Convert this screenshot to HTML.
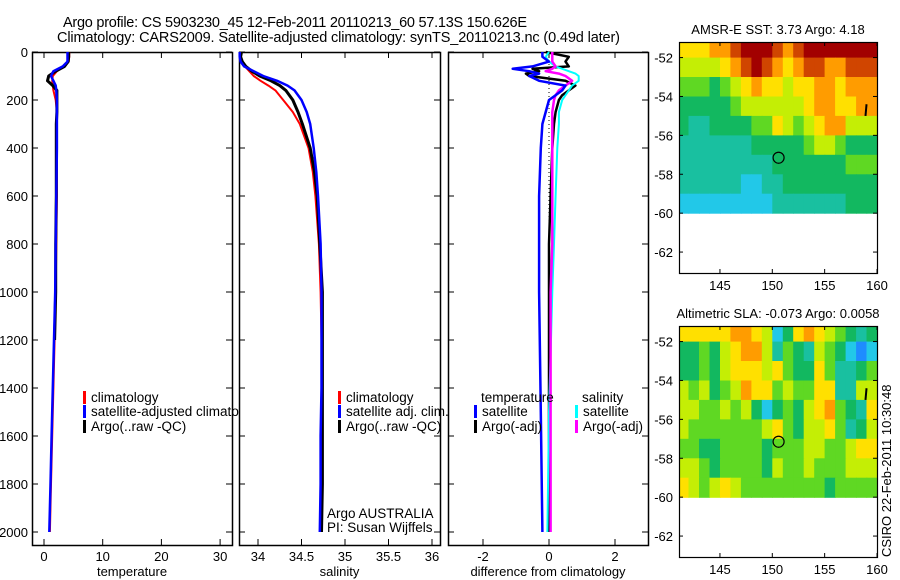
<!DOCTYPE html>
<html><head><meta charset="utf-8">
<style>
html,body{margin:0;padding:0;background:#fff;}
svg{display:block;font-family:"Liberation Sans",Arial,sans-serif;}
</style></head>
<body>
<svg id="fig" width="900" height="580" viewBox="0 0 900 580" xmlns="http://www.w3.org/2000/svg">
<text x="63" y="27" font-size="14.5" textLength="464">Argo profile: CS 5903230_45 12-Feb-2011 20110213_60 57.13S 150.626E</text>
<text x="57" y="42" font-size="14.5" textLength="563">Climatology: CARS2009. Satellite-adjusted climatology: synTS_20110213.nc (0.49d later)</text>
<g id="plots"></g>
</svg>
<script>
// ---------- data ----------
const tDepth = [0,20,40,60,80,100,120,140,160,200,250,300,400,600,800,1000,1200,1400,1600,1800,2000];
const tClim  = [4.3,4.3,4.2,3.5,2.2,1.5,1.4,1.5,1.6,2.0,2.2,2.2,2.2,2.2,2.1,2.0,1.8,1.6,1.4,1.2,1.0];
const tSat   = [4.0,4.0,4.0,3.2,1.6,1.2,1.6,2.0,2.1,2.2,2.2,2.2,2.2,2.1,2.0,1.9,1.7,1.5,1.3,1.1,0.9];
const tArgo  = [4.2,4.2,4.1,3.5,2.0,0.8,0.6,1.5,2.2,2.2,2.2,2.1,2.1,2.1,2.0,2.0,1.8];
const sDepth = [0,20,40,60,80,100,120,140,160,200,250,300,400,500,600,800,1000,1200,1400,1600,1800,2000];
const sClim  = [33.80,33.80,33.81,33.85,33.90,33.95,34.03,34.12,34.20,34.29,34.40,34.48,34.58,34.63,34.66,34.70,34.72,34.73,34.73,34.73,34.73,34.73];
const sSat   = [33.79,33.79,33.80,33.84,33.95,34.06,34.22,34.34,34.42,34.50,34.56,34.60,34.64,34.67,34.69,34.72,34.73,34.73,34.73,34.72,34.72,34.71];
const sArgo  = [33.81,33.80,33.82,33.86,33.93,34.02,34.15,34.25,34.32,34.40,34.46,34.51,34.60,34.65,34.68,34.71,34.74,34.74,34.74,34.74,34.74,34.73];
const dDepth = [0,20,40,60,70,80,90,100,120,140,160,180,200,250,300,400,600,800,1000,1500,2000];
const dTSat  = [-0.2,-0.2,0.0,-0.5,-1.1,-0.6,-0.3,-0.6,-0.3,0.5,0.4,0.2,0.0,-0.1,-0.2,-0.25,-0.3,-0.3,-0.3,-0.25,-0.2];
const dTArgo = [-0.1,0.6,0.5,0.6,-0.5,-0.3,-0.7,-0.6,0.5,0.8,0.6,0.4,0.3,0.2,0.15,0.1,0.05,0.0,0.0,0.0,0.0];
const dSSat  = [0.0,-0.1,0.0,0.2,0.4,0.6,0.8,0.9,0.9,0.7,0.6,0.5,0.4,0.3,0.3,0.25,0.2,0.15,0.1,0.0,-0.05];
const dSArgo = [0.1,0.1,0.1,0.2,0.1,-0.1,0.3,0.5,0.7,0.5,0.3,0.2,0.15,0.1,0.1,0.1,0.1,0.1,0.05,0.05,0.05];
const depthTicks = [0,200,400,600,800,1000,1200,1400,1600,1800,2000];
const tempTicks = [0,10,20,30];
const salTicks = [34,34.5,35,35.5,36];
const salTickLabels = ["34","34.5","35","35.5","36"];
const diffTicks = [-2,0,2];
const sstGrid = [
[6,6,6,7,7,8,9,9,9,8,7,8,9,9,9,9,9,9,9],
[5,5,5,5,6,7,8,9,8,7,6,7,8,8,7,7,8,8,8],
[4,4,4,3,4,5,6,7,6,6,5,6,6,7,7,6,7,7,7],
[3,3,3,3,3,4,5,5,5,5,5,5,6,7,7,6,6,7,7],
[3,2,2,3,3,3,3,4,4,6,5,4,5,6,7,7,5,5,5],
[2,2,2,2,2,2,2,3,3,3,3,3,4,5,5,4,3,3,3],
[2,2,2,2,2,2,2,2,2,3,3,3,3,3,3,3,4,4,4],
[2,2,2,2,2,2,1,1,2,2,3,3,3,3,3,3,3,3,3],
[1,1,1,1,1,1,1,1,1,2,2,2,2,2,2,2,3,3,3]];
const slaGrid = [
[6,6,6,6,6,7,7,6,5,1,3,6,7,6,5,4,3,2,3],
[3,3,4,3,5,6,7,7,5,2,4,3,2,5,4,3,1,0,1],
[3,3,4,3,5,6,6,6,5,6,4,3,3,6,4,2,2,3,4],
[5,4,5,3,4,5,7,6,6,4,5,4,4,6,6,2,2,5,5],
[5,5,4,4,5,4,5,3,1,3,4,3,5,6,7,4,3,2,6],
[5,4,4,4,4,4,4,4,5,6,4,3,5,5,6,4,2,3,5],
[4,4,3,3,4,4,4,4,3,4,4,4,5,5,4,4,5,6,6],
[5,5,4,3,4,4,4,4,3,5,4,4,5,4,4,4,5,5,5],
[6,5,4,5,6,5,4,4,4,4,4,4,4,4,3,4,4,4,4]];
const gridLats = [-51.2,-52,-53,-54,-55,-56,-57,-58,-59,-60];
const gridLons = [141,142,143,144,145,146,147,148,149,150,151,152,153,154,155,156,157,158,159,160];
const latTicks = [-52,-54,-56,-58,-60,-62];
const lonTicks = [145,150,155,160];
const argoPos = [150.6,-57.15];
const palette = ["#1e8cff","#22c8e8","#19c0a0","#12b860","#5fd823","#c4ee05","#ffe000","#ff9c00","#d04500","#a20000"];

// ---------- helpers ----------
const NS="http://www.w3.org/2000/svg";
const root=document.getElementById('plots');
function el(tag,attrs,parent,text){const e=document.createElementNS(NS,tag);for(const k in attrs)e.setAttribute(k,attrs[k]);if(text!==undefined)e.textContent=text;(parent||root).appendChild(e);return e;}
const Y0=52, PXM=0.24;
const yD=d=>Y0+d*PXM;

function panel(name,x0,x1,xs,ticks,labels,title){
  const g=el('g',{});
  
  
  el('rect',{x:x0,y:52,width:x1-x0+1,height:494,fill:'#fff'},g);
  const r=el('rect',{x:x0+0.5,y:52.5,width:x1-x0,height:493,fill:'none',stroke:'#000','stroke-width':1.5},g);
  
  
  depthTicks.forEach(d=>{
    el('line',{x1:x0,x2:x0+6,y1:yD(d),y2:yD(d),stroke:'#000'},g);
    el('line',{x1:x1-6,x2:x1,y1:yD(d),y2:yD(d),stroke:'#000'},g);
    if(name==='temperature'){const t=el('text',{x:28,y:yD(d)+5,'font-size':13,'text-anchor':'end'},g,String(d));
      
      }
  });
  ticks.forEach((v,i)=>{
    const x=xs(v);
    el('line',{x1:x,x2:x,y1:52,y2:58,stroke:'#000'},g);
    el('line',{x1:x,x2:x,y1:539,y2:545,stroke:'#000'},g);
    const t=el('text',{x:x,y:561,'font-size':13,'text-anchor':'middle'},g,labels[i]);
    
    
  });
  const tt=el('text',{x:(x0+x1)/2,y:576,'font-size':13,'text-anchor':'middle'},g,title);
  
  
  return g;
}
function line(g,xs,depths,vals,color,w,name){
  const pts=vals.map((v,i)=>xs(v).toFixed(1)+','+yD(depths[i]).toFixed(1)).join(' ');
  const p=el('polyline',{points:pts,fill:'none',stroke:color,'stroke-width':w,'stroke-linejoin':'round'},g);
  
  
}
function legend(g,x,y,color,label,name){
  const r=el('rect',{x:x,y:y-11,width:3,height:13,fill:color},g);
  
  
  const t=el('text',{x:x+8,y:y,'font-size':13.5},g,label);
  
  
}

// temperature
const xT=v=>44+v*5.87;
const gT=panel('temperature',32,232,xT,tempTicks,tempTicks.map(String),'temperature');
line(gT,xT,tDepth,tClim,'#f00',2,'temp-climatology-line');
line(gT,xT,tDepth,tArgo,'#000',3,'temp-argo-line');
line(gT,xT,tDepth,tSat,'#00f',2.5,'temp-satellite-line');
legend(gT,83,402,'#f00','climatology','legend-climatology');
legend(gT,83,416,'#00f','satellite-adjusted climatology','legend-satellite-adjusted');
legend(gT,83,431,'#000','Argo(..raw -QC)','legend-argo');

// salinity (white background clips the temperature legend overflow)
const xS=v=>258+(v-34)*87;
const gS=panel('salinity',239,440,xS,salTicks,salTickLabels,'salinity');
line(gS,xS,sDepth,sClim,'#f00',2,'sal-climatology-line');
line(gS,xS,sDepth,sArgo,'#000',3,'sal-argo-line');
line(gS,xS,sDepth,sSat,'#00f',2.5,'sal-satellite-line');
legend(gS,338,402,'#f00','climatology','legend-sal-climatology');
legend(gS,338,416,'#00f','satellite adj. clim.','legend-sal-satellite');
legend(gS,338,431,'#000','Argo(..raw -QC)','legend-sal-argo');
const a1=el('text',{x:327,y:518,'font-size':13.5},gS,'Argo AUSTRALIA');


const a2=el('text',{x:327,y:532,'font-size':13.5},gS,'PI: Susan Wijffels');



// difference
const xDf=v=>549+v*33;
const gD=panel('difference',448,648,xDf,diffTicks,diffTicks.map(String),'difference from climatology');
el('line',{x1:xDf(0),x2:xDf(0),y1:yD(0),y2:yD(2000),stroke:'#000','stroke-dasharray':'1,3'},gD);
line(gD,xDf,dDepth,dTArgo,'#000',2.5,'diff-temp-argo-line');
line(gD,xDf,dDepth,dSSat,'#0ff',2,'diff-sal-satellite-line');
line(gD,xDf,dDepth,dSArgo,'#f0f',2.5,'diff-sal-argo-line');
line(gD,xDf,dDepth,dTSat,'#00f',2.5,'diff-temp-satellite-line');
const lt=el('text',{x:481,y:402,'font-size':13.5},gD,'temperature');


const ls=el('text',{x:582,y:402,'font-size':13.5},gD,'salinity');


legend(gD,474,416,'#00f','satellite','legend-diff-temp-satellite');
legend(gD,474,431,'#000','Argo(-adj)','legend-diff-temp-argo');
legend(gD,575,416,'#0ff','satellite','legend-diff-sal-satellite');
legend(gD,575,431,'#f0f','Argo(-adj)','legend-diff-sal-argo');

// maps
function map(name,top,grid,title){
  const L=679,R=877,B=top+231;
  const xL=lon=>877-(160-lon)*10.47;
  const yL=lat=>top+(-51.2-lat)*19.45;
  const g=el('g',{});
  
  
  grid.forEach((row,i)=>row.forEach((v,j)=>{
    const x=Math.max(L,xL(gridLons[j])), y=yL(gridLats[i]);
    const c=el('rect',{x:x.toFixed(1),y:y.toFixed(1),width:(xL(gridLons[j+1])-x+0.6).toFixed(1),height:(yL(gridLats[i+1])-y+0.6).toFixed(1),fill:palette[v]},g);
    
    
  }));
  const fr=el('rect',{x:L+0.5,y:top+0.5,width:R-L,height:B-top,fill:'none',stroke:'#000','stroke-width':1.2},g);
  
  
  latTicks.forEach(v=>{const y=yL(v);
    el('line',{x1:L,x2:L+4,y1:y,y2:y,stroke:'#000'},g);el('line',{x1:R-4,x2:R,y1:y,y2:y,stroke:'#000'},g);
    const t=el('text',{x:673,y:y+5,'font-size':13,'text-anchor':'end'},g,String(v));
    
    });
  lonTicks.forEach(v=>{const x=xL(v);
    el('line',{x1:x,x2:x,y1:top,y2:top+4,stroke:'#000'},g);el('line',{x1:x,x2:x,y1:B-4,y2:B,stroke:'#000'},g);
    const t=el('text',{x:x,y:B+17,'font-size':13,'text-anchor':'middle'},g,String(v));
    
    });
  const c=el('circle',{cx:xL(argoPos[0]),cy:yL(argoPos[1]),r:5.5,fill:'none',stroke:'#000','stroke-width':1.2},g);
  
  
  el('path',{d:`M${xL(159)} ${yL(-54.4)} L${xL(158.9)} ${yL(-55)}`,stroke:'#000','stroke-width':2},g);
  const t=el('text',{x:778,y:top-8,'font-size':13,'text-anchor':'middle'},g,title);
  
  
}
map('sst',42,sstGrid,'AMSR-E SST: 3.73 Argo: 4.18');
map('sla',326,slaGrid,'Altimetric SLA: -0.073 Argo: 0.0058');
const cs=el('text',{x:0,y:0,'font-size':13,transform:'translate(891,557) rotate(-90)'},root,'CSIRO 22-Feb-2011 10:30:48');


</script>
</body></html>
